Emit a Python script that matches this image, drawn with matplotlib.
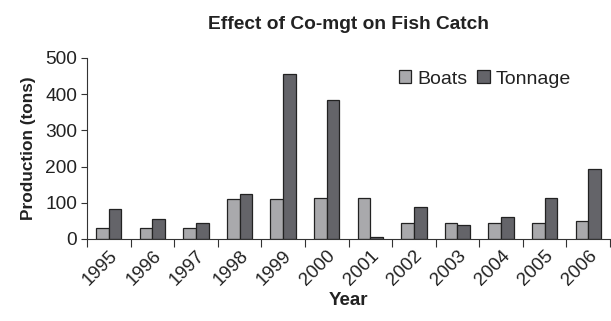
import numpy as np
import matplotlib.pyplot as plt
from matplotlib.ticker import FixedLocator

plt.rcParams['font.family'] = ['Liberation Sans', 'DejaVu Sans']

# catch data by year
years = ['1995', '1996', '1997', '1998', '1999', '2000',
         '2001', '2002', '2003', '2004', '2005', '2006']
boats = [30, 30, 30, 110, 110, 113, 113, 45, 45, 45, 45, 50]
tonnage = [84, 55, 45, 124, 455, 385, 5, 89, 40, 60, 113, 193]

x = np.arange(len(years))
w = 0.29

fig = plt.figure(figsize=(6.11, 3.21), dpi=100)
ax = fig.add_axes([0.1424, 0.2555, 0.856, 0.5639])

ax.bar(x - w/2, boats, w, color='#a9a9ac', edgecolor='#222222', linewidth=0.9, label='Boats')
ax.bar(x + w/2, tonnage, w, color='#646469', edgecolor='#222222', linewidth=0.9, label='Tonnage')

ax.set_xlim(-0.5, len(years) - 0.5)
ax.set_ylim(0, 500)
ax.set_yticks([0, 100, 200, 300, 400, 500])
ax.tick_params(axis='y', labelsize=13.8, length=4, width=0.8, color='#333333', pad=3)

# labels centred on groups, tick marks between groups
ax.set_xticks(x)
ax.set_xticklabels(years, rotation=45, ha='right', rotation_mode='anchor', fontsize=13.5,
                   color='#222222')
ax.tick_params(axis='x', which='major', length=0, pad=6)
ax.xaxis.set_minor_locator(FixedLocator(np.arange(-0.5, len(years), 1.0)))
ax.tick_params(axis='x', which='minor', length=6, width=0.8, color='#333333')
for t in ax.get_yticklabels():
    t.set_color('#222222')

for s in ['top', 'right']:
    ax.spines[s].set_visible(False)
for s in ['left', 'bottom']:
    ax.spines[s].set_color('#333333')
    ax.spines[s].set_linewidth(0.8)

ax.set_title('Effect of Co-mgt on Fish Catch', fontsize=13.8, fontweight='bold', pad=21,
             color='#222222')
ax.set_xlabel('Year', fontsize=13.5, fontweight='bold', labelpad=2, color='#222222')
ax.set_ylabel('Production (tons)', fontsize=12.4, fontweight='bold', labelpad=7, color='#222222')

ax.legend(loc='upper right', bbox_to_anchor=(0.94, 0.975), frameon=False, fontsize=14,
          handlelength=0.65, handleheight=0.65, handletextpad=0.3, columnspacing=0.5,
          ncol=2, borderaxespad=0, labelcolor='#222222')

fig.savefig('out.png', dpi=100)
